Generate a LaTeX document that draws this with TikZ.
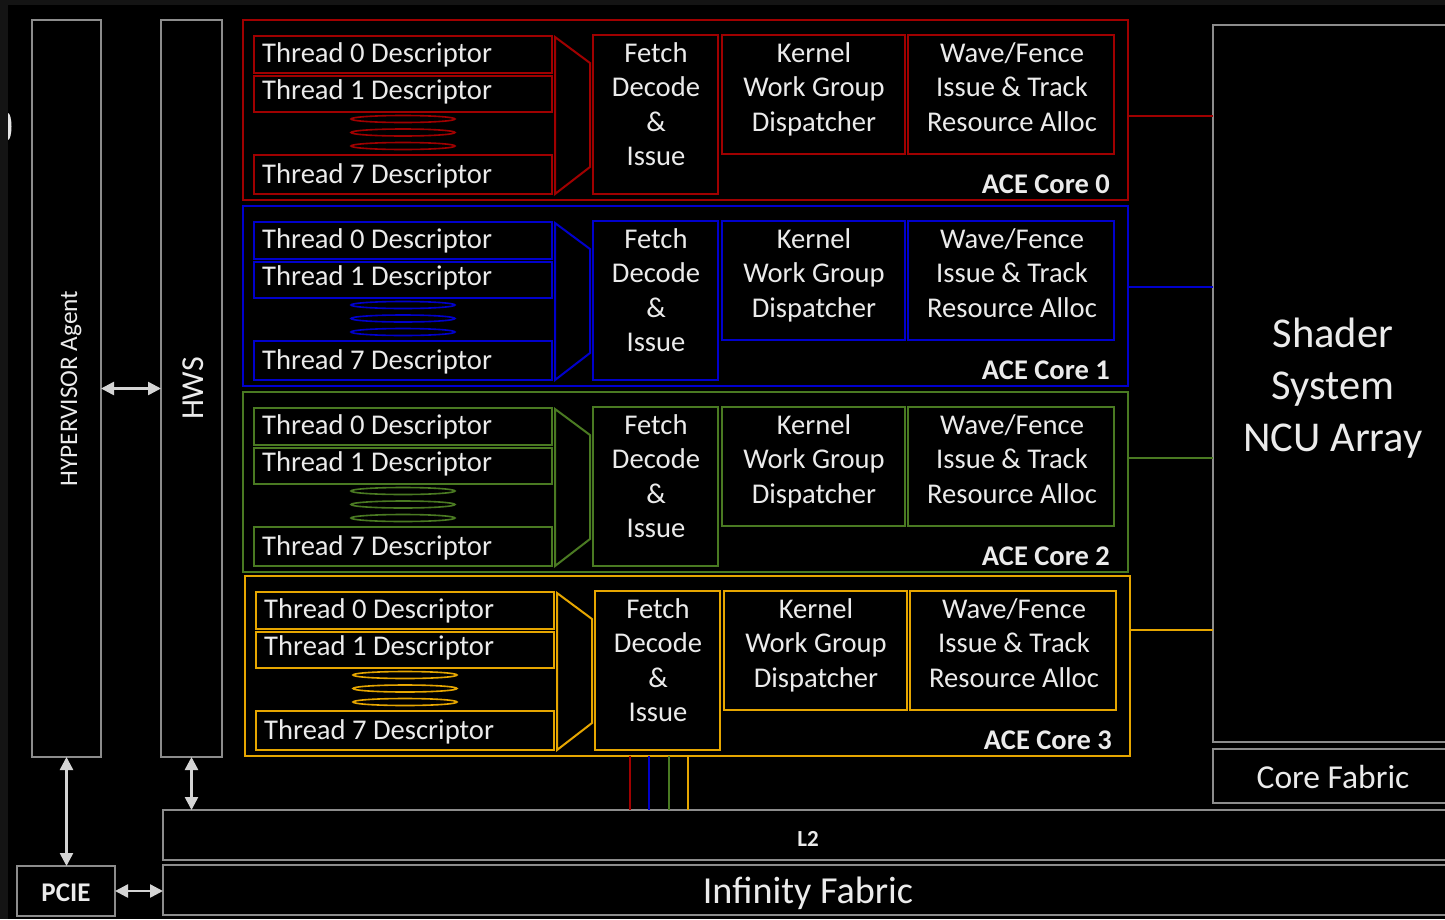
\documentclass[tikz,border=0pt]{standalone}
\usepackage{fontspec}
\setmainfont{Carlito}
\usetikzlibrary{arrows.meta,calc}
\definecolor{acered}{HTML}{A00000}
\definecolor{aceblue}{HTML}{0000CC}
\definecolor{acegreen}{HTML}{4A7A22}
\definecolor{acegold}{HTML}{E6A600}
\definecolor{boxgray}{HTML}{8C8C8C}
\definecolor{txtcol}{HTML}{EBEBEB}
\definecolor{arrowgray}{HTML}{D4D4D4}
\definecolor{edgecol}{HTML}{141414}
\tikzset{
  box/.style={draw, line width=2pt, inner sep=0pt, outer sep=0pt, anchor=north west},
  gbox/.style={box, draw=boxgray},
  txt/.style={text=txtcol, inner sep=0pt, font=\fontsize{28.6}{34.5}\selectfont},
  boldtxt/.style={text=txtcol, inner sep=0pt, font=\bfseries\fontsize{28.5}{32}\selectfont},
  wire/.style={line width=2pt},
  biarrow/.style={draw=arrowgray, line width=2.5pt,
    {Triangle[length=13pt,width=13pt]}-{Triangle[length=13pt,width=13pt]}},
}
% name, colour, x1, y1, x2, y2
\newcommand\bx[6]{\node[box,draw=#2,minimum width={#5-#3},minimum height={#6-#4}] (#1) at (#3,#4) {};}
% index, colour, dx, dy
\newcommand\acecore[4]{%
\begin{scope}[shift={(#3,#4)}]
  \bx{core#1}{#2}{243}{20}{1128}{200}
  \bx{ta#1}{#2}{254}{36}{552}{73}
  \bx{tb#1}{#2}{254}{76}{552}{112}
  \bx{tc#1}{#2}{254}{155}{552}{194}
  \draw[#2, line width=1.6pt] (403,119) ellipse [x radius=52, y radius=3.5];
  \draw[#2, line width=1.6pt] (403,132.5) ellipse [x radius=52, y radius=3.5];
  \draw[#2, line width=1.6pt] (403,146) ellipse [x radius=52, y radius=3.5];
  \draw[#2, wire, line join=miter] (555,37) -- (590,63) -- (590,167) -- (555,194) -- cycle;
  \bx{fd#1}{#2}{593}{35}{718}{194}
  \bx{kw#1}{#2}{722}{35}{905}{154}
  \bx{wf#1}{#2}{908}{35}{1114}{154}
  \node[txt, anchor=base west] (tal#1) at (262,62) {Thread 0 Descriptor};
  \node[txt, anchor=base west] (tbl#1) at (262,99) {Thread 1 Descriptor};
  \node[txt, anchor=base west] (tcl#1) at (262,183) {Thread 7 Descriptor};
  \node[txt, align=center, anchor=base] (fdl#1) at (656,165.5) {Fetch\\Decode\\\&\\Issue};
  \node[txt, align=center, anchor=base] (kwl#1) at (814,131) {Kernel\\Work Group\\Dispatcher};
  \node[txt, align=center, anchor=base] (wfl#1) at (1012,131) {Wave/Fence\\Issue \& Track\\Resource Alloc};
  \node[boldtxt, anchor=base east] (lab#1) at (1110,193) {ACE Core #1};
\end{scope}}
\begin{document}
\begin{tikzpicture}[x=1pt,y=-1pt]
\useasboundingbox (0,0) rectangle (1445,919);
\clip (0,0) rectangle (1445,919);
\fill[edgecol] (0,0) rectangle (1445,919);
\fill[black] (8,5) rectangle (1445,919);
\fill[white!90!black] (8,113) arc[start angle=-90, end angle=90, x radius=3.5, y radius=13.5] -- cycle;

% grey blocks
\node[gbox, minimum width=69, minimum height=737] (hyper) at (32,20) {};
\node[gbox, minimum width=61, minimum height=737] (hws) at (161,20) {};
\node[gbox, minimum width=98, minimum height=50] (pcie) at (17,866) {};
\node[gbox, minimum width=1300, minimum height=50] (l2) at (163,810) {};
\node[gbox, minimum width=1300, minimum height=50] (inf) at (163,865) {};
\node[gbox, minimum width=260, minimum height=717] (shader) at (1213,25) {};
\node[gbox, minimum width=260, minimum height=54] (corefab) at (1213,749) {};

\node[text=txtcol, inner sep=0pt, font=\fontsize{25.3}{30}\selectfont, rotate=90, anchor=base] (hyperl) at (77,388.5) {HYPERVISOR Agent};
\node[text=txtcol, inner sep=0pt, font=\fontsize{32}{38}\selectfont, rotate=90, anchor=base] (hwsl) at (203,388.5) {HWS};
\node[text=txtcol, inner sep=0pt, font=\bfseries\fontsize{27}{32}\selectfont, anchor=base] (pciel) at (66,901) {PCIE};
\node[text=txtcol, inner sep=0pt, font=\bfseries\fontsize{23}{28}\selectfont, anchor=base] (l2l) at (808,846) {L2};
\node[text=txtcol, inner sep=0pt, font=\fontsize{38.2}{44}\selectfont, anchor=base] (infl) at (808,903) {Infinity Fabric};
\node[text=txtcol, inner sep=0pt, font=\fontsize{42.5}{52}\selectfont, align=center] (shaderl) at (1333,388) {Shader\\System\\NCU Array};
\node[text=txtcol, inner sep=0pt, font=\fontsize{33.5}{38}\selectfont] (corefabl) at (1333,777) {Core Fabric};

% ACE cores
\acecore{0}{acered}{0}{0}
\acecore{1}{aceblue}{0}{186}
\acecore{2}{acegreen}{0}{372}
\acecore{3}{acegold}{2}{556}

% core to shader links
\draw[acered, wire] (core0.east |- 0,116) -- (shader.west |- 0,116);
\draw[aceblue, wire] (core1.east |- 0,287) -- (shader.west |- 0,287);
\draw[acegreen, wire] (core2.east |- 0,458) -- (shader.west |- 0,458);
\draw[acegold, wire] (core3.east |- 0,630) -- (shader.west |- 0,630);

% cores to L2
\draw[acered, wire] ([xshift=385]core3.south west) -- ([xshift=385]core3.south west |- l2.north);
\draw[aceblue, wire] ([xshift=404]core3.south west) -- ([xshift=404]core3.south west |- l2.north);
\draw[acegreen, wire] ([xshift=424]core3.south west) -- ([xshift=424]core3.south west |- l2.north);
\draw[acegold, wire] ([xshift=443]core3.south west) -- ([xshift=443]core3.south west |- l2.north);

% arrows
\draw[biarrow] (hyper.east) -- (hws.west);
\draw[biarrow] (hyper.south) -- (hyper.south |- pcie.north);
\draw[biarrow] (hws.south) -- (hws.south |- l2.north);
\draw[biarrow] (pcie.east) -- (pcie.east -| inf.west);
\end{tikzpicture}
\end{document}
